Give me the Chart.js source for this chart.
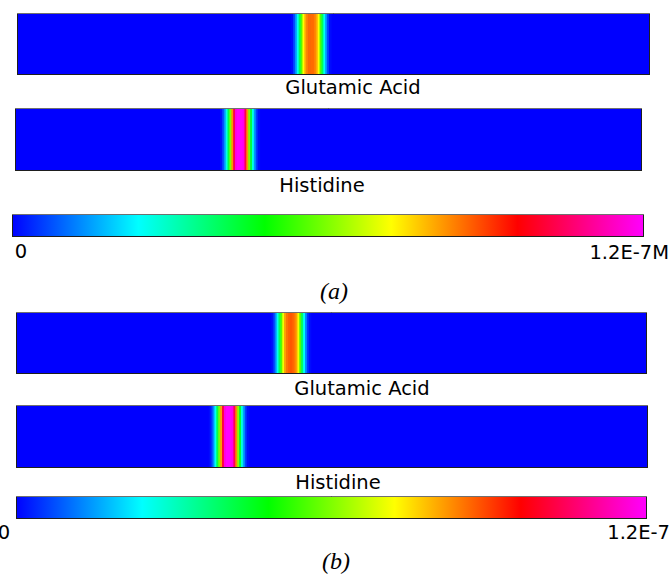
<!DOCTYPE html>
<html>
<head>
<meta charset="utf-8">
<script src="https://cdn.jsdelivr.net/npm/chart.js@4.4.0/dist/chart.umd.min.js"></script>
<style>
  html, body { margin: 0; padding: 0; background: #ffffff; }
  #wrap { position: relative; width: 671px; height: 576px; overflow: hidden; background: #ffffff; }
  canvas { position: absolute; display: block; }
  .lbl { position: absolute; font-family: "DejaVu Sans", Verdana, sans-serif; font-size: 19.5px; line-height: 20px; color: #000; white-space: nowrap; }
  .cap { position: absolute; font-family: "Liberation Serif", "Times New Roman", serif; font-style: italic; font-size: 24px; line-height: 24px; color: #000; white-space: nowrap; }
</style>
</head>
<body>
<div id="wrap">
  <canvas id="gluA" width="633" height="62" style="left:17px;top:13px"></canvas>
  <canvas id="hisA" width="627" height="63" style="left:15px;top:108px"></canvas>
  <canvas id="barA" width="632" height="23" style="left:12px;top:214px"></canvas>
  <canvas id="gluB" width="631" height="62" style="left:16px;top:312px"></canvas>
  <canvas id="hisB" width="632" height="63" style="left:16px;top:405px"></canvas>
  <canvas id="barB" width="631" height="23" style="left:16px;top:496px"></canvas>

  <div class="lbl" style="left:253px;width:200px;text-align:center;top:78px">Glutamic Acid</div>
  <div class="lbl" style="left:222px;width:200px;text-align:center;top:176px">Histidine</div>
  <div class="lbl" id="a0" style="left:0px;width:42px;text-align:center;top:242px"></div>
  <div class="lbl" id="aMax" style="right:2px;text-align:right;top:243px"></div>
  <div class="cap" style="left:284px;width:100px;text-align:center;top:279px">(a)</div>

  <div class="lbl" style="left:262px;width:200px;text-align:center;top:379px">Glutamic Acid</div>
  <div class="lbl" style="left:238px;width:200px;text-align:center;top:473px">Histidine</div>
  <div class="lbl" id="b0" style="left:-17px;width:42px;text-align:center;top:523px"></div>
  <div class="lbl" id="bMax" style="right:1px;text-align:right;top:523px"></div>
  <div class="cap" style="left:286px;width:100px;text-align:center;top:549px">(b)</div>
</div>
<script>
// ---------------- data ----------------
// concentration scale (M)
const concMin = 0;
const concMax = 1.2e-7;
const scaleTickLabelsA = ['0', '1.2E-7M'];
const scaleTickLabelsB = ['0', '1.2E-7'];

// position along the channel (% of length) and concentration (units of 1e-8 M)
// (a) Glutamic Acid
const gluA_pos  = [43.5,43.8,44.1,44.4,44.7,45.0,45.3,45.6,45.9,46.2,46.5,46.8,47.1,47.4,47.7,48.0,48.3,48.6,48.9,49.2,49.5];
const gluA_conc = [0.1,0.6,1.4,2.5,4.0,5.6,7.2,8.0,8.4,8.6,8.6,8.6,8.4,8.0,7.2,5.6,4.0,2.5,1.4,0.6,0.1];
// (a) Histidine
const hisA_pos  = [32.9,33.2,33.5,33.8,34.1,34.4,34.7,35.0,35.3,35.6,35.9,36.2,36.5,36.8,37.1,37.4,37.7,38.0,38.3,38.6,38.9];
const hisA_conc = [0.1,0.6,1.4,2.6,4.2,6.0,8.2,10.3,11.8,12.0,12.0,12.0,11.8,10.3,8.2,6.0,4.2,2.6,1.4,0.6,0.1];
// (b) Glutamic Acid
const gluB_pos  = [40.6,40.9,41.2,41.5,41.8,42.1,42.4,42.7,43.0,43.3,43.6,43.9,44.2,44.5,44.8,45.1,45.4,45.7,46.0,46.3,46.6];
const gluB_conc = [0.1,0.5,1.3,2.5,3.9,5.6,7.1,8.1,8.5,8.7,8.8,8.7,8.5,8.1,7.1,5.6,3.9,2.5,1.3,0.5,0.1];
// (b) Histidine
const hisB_pos  = [30.7,31.0,31.3,31.6,31.9,32.2,32.5,32.8,33.1,33.4,33.7,34.0,34.3,34.6,34.9,35.2,35.5,35.8,36.1,36.4,36.7];
const hisB_conc = [0.1,0.5,1.3,2.5,4.1,5.9,8.1,10.2,11.7,12.0,12.0,12.0,11.8,10.4,8.3,6.1,4.3,2.7,1.5,0.6,0.1];

// ---------------- colour map ----------------
const cmapStops = [
  [0.0, [0, 0, 255]],
  [0.2, [0, 255, 255]],
  [0.4, [0, 255, 0]],
  [0.6, [255, 255, 0]],
  [0.8, [255, 0, 0]],
  [1.0, [255, 0, 255]]
];
function colormap(t) {
  t = Math.max(0, Math.min(1, t));
  for (let i = 1; i < cmapStops.length; i++) {
    const [t1, c1] = cmapStops[i];
    const [t0, c0] = cmapStops[i - 1];
    if (t <= t1) {
      const f = (t - t0) / (t1 - t0);
      const c = c0.map((v, k) => Math.round(v + (c1[k] - v) * f));
      return `rgb(${c[0]},${c[1]},${c[2]})`;
    }
  }
  const c = cmapStops[cmapStops.length - 1][1];
  return `rgb(${c[0]},${c[1]},${c[2]})`;
}

const frame = {
  id: 'frame',
  beforeDraw(chart, args, opts) {
    const {ctx, chartArea: a} = chart;
    if (opts.bg) {
      ctx.save();
      ctx.fillStyle = opts.bg;
      ctx.fillRect(a.left, a.top, a.right - a.left, a.bottom - a.top);
      ctx.restore();
    }
  },
  afterDraw(chart) {
    const {ctx, width, height} = chart;
    ctx.save();
    ctx.lineWidth = 1;
    ctx.strokeStyle = '#1e1e1e';
    ctx.strokeRect(0.5, 0.5, width - 1, height - 1);
    ctx.strokeStyle = '#707070';
    ctx.beginPath(); ctx.moveTo(0, 0.5); ctx.lineTo(width, 0.5); ctx.stroke();
    ctx.restore();
  }
};

function strip(id, pos, conc) {
  new Chart(document.getElementById(id), {
    type: 'bar',
    data: {
      datasets: [{
        data: pos.map((p, i) => ({x: p, y: 1})),
        backgroundColor: conc.map(c => colormap((c * 1e-8 - concMin) / (concMax - concMin))),
        borderWidth: 0,
        barPercentage: 1,
        categoryPercentage: 1
      }]
    },
    options: {
      responsive: false,
      animation: false,
      devicePixelRatio: 1,
      layout: {padding: 0},
      scales: {
        x: {type: 'linear', min: 0, max: 100, offset: false, display: false},
        y: {min: 0, max: 1, display: false}
      },
      plugins: {legend: {display: false}, tooltip: {enabled: false}, frame: {bg: colormap(0)}}
    },
    plugins: [frame]
  });
}

function colorbar(id) {
  new Chart(document.getElementById(id), {
    type: 'bar',
    data: {
      labels: ['c'],
      datasets: [{
        data: [[concMin, concMax]],
        backgroundColor: (ctx) => {
          const chart = ctx.chart;
          const xs = chart.scales.x;
          if (!xs) return colormap(0);
          const x0 = xs.getPixelForValue(concMin), x1 = xs.getPixelForValue(concMax);
          if (!isFinite(x0) || !isFinite(x1) || x0 === x1) return colormap(0);
          const g = chart.ctx.createLinearGradient(x0, 0, x1, 0);
          cmapStops.forEach(([t, c]) => g.addColorStop(t, `rgb(${c[0]},${c[1]},${c[2]})`));
          return g;
        },
        borderWidth: 0,
        barPercentage: 1,
        categoryPercentage: 1
      }]
    },
    options: {
      indexAxis: 'y',
      responsive: false,
      animation: false,
      devicePixelRatio: 1,
      layout: {padding: 0},
      scales: {
        x: {type: 'linear', min: concMin, max: concMax, offset: false, display: false},
        y: {display: false, offset: true}
      },
      plugins: {legend: {display: false}, tooltip: {enabled: false}, frame: {}}
    },
    plugins: [frame]
  });
}

document.getElementById('a0').textContent = scaleTickLabelsA[0];
document.getElementById('aMax').textContent = scaleTickLabelsA[1];
document.getElementById('b0').textContent = scaleTickLabelsB[0];
document.getElementById('bMax').textContent = scaleTickLabelsB[1];

strip('gluA', gluA_pos, gluA_conc);
strip('hisA', hisA_pos, hisA_conc);
colorbar('barA');
strip('gluB', gluB_pos, gluB_conc);
strip('hisB', hisB_pos, hisB_conc);
colorbar('barB');
</script>
</body>
</html>
